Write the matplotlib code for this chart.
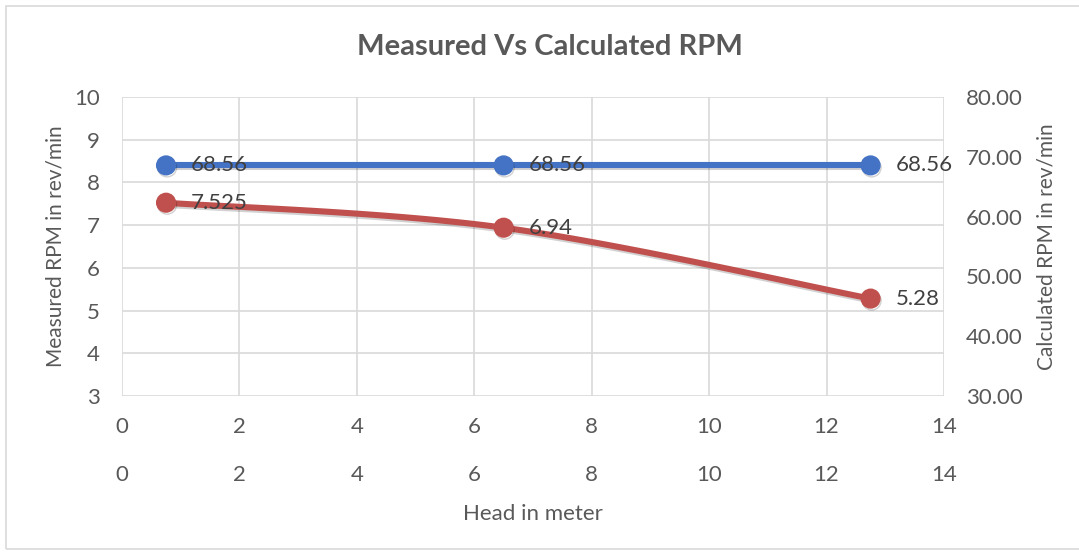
import numpy as np
import matplotlib
matplotlib.use('Agg')
import matplotlib.pyplot as plt
import matplotlib.patheffects as pe
from matplotlib.patches import Rectangle

# data
head = [0.75, 6.5, 12.75]
measured = [7.525, 6.94, 5.28]
calculated = [68.56, 68.56, 68.56]
measured_labels = ['7.525', '6.94', '5.28']
calculated_labels = ['68.56', '68.56', '68.56']

BLUE = '#4472C4'
RED = '#C0504D'
GRID = '#D9D9D9'
TXT = '#595959'

plt.rcParams['font.family'] = ['Lato', 'DejaVu Sans']

#smooth curve through the points (catmull-rom style, like a spreadsheet smoothed line)
def smooth(xs, ys, n=40):
    pts = np.column_stack([xs, ys]).astype(float)
    p = np.vstack([pts[0], pts, pts[-1]])
    out = []
    for i in range(1, len(p) - 2):
        p0, p1, p2, p3 = p[i-1], p[i], p[i+1], p[i+2]
        c1 = p1 + (p2 - p0) / 6.0
        c2 = p2 - (p3 - p1) / 6.0
        t = np.linspace(0, 1, n)[:, None]
        seg = (1-t)**3*p1 + 3*(1-t)**2*t*c1 + 3*(1-t)*t**2*c2 + t**3*p2
        out.append(seg)
    out = np.vstack(out)
    return out[:, 0], out[:, 1]

shadow = [pe.SimpleLineShadow(offset=(0.8, -1.5), shadow_color='black', alpha=0.18), pe.Normal()]

fig = plt.figure(figsize=(10.79, 5.53), dpi=100)
fig.patches.append(Rectangle((6/1079, 4/553), 1.0, 543/553, transform=fig.transFigure,
                             fill=False, edgecolor=GRID, lw=1.2))

ax = fig.add_axes([122/1079, 1-396/553, 822/1079, 299/553])
ax.set_xlim(0, 14)
ax.set_ylim(3, 10)
ax.set_xticks(range(0, 15, 2))
ax.set_yticks(range(3, 11))
ax.grid(True, color=GRID, lw=1.2)
ax.set_axisbelow(True)
for s in ax.spines.values():
    s.set_visible(False)
ax.tick_params(length=0, labelsize=16, colors=TXT, pad=15)
ax.tick_params(axis='y', pad=16)
ax.set_ylabel('Measured RPM in rev/min', fontsize=15, color=TXT, labelpad=6)

ax2 = ax.twinx()
ax2.set_ylim(30, 80)
ax2.set_yticks(range(30, 81, 10))
ax2.set_yticklabels(['%.2f' % v for v in range(30, 81, 10)])
for s in ax2.spines.values():
    s.set_visible(False)
ax2.tick_params(length=0, labelsize=16, colors=TXT, pad=16)
ax2.set_ylabel('Calculated RPM in rev/min', fontsize=15, color=TXT, labelpad=10)

# second horizontal axis below the first one
sec = ax.secondary_xaxis(-48/299)
sec.set_xticks(range(0, 15, 2))
sec.spines['bottom'].set_visible(False)
sec.tick_params(length=0, labelsize=16, colors=TXT, pad=15)
sec.set_xlabel('Head in meter', fontsize=16, color=TXT, labelpad=14)

# measured (primary axis), smoothed red line
sx, sy = smooth(head, measured)
ax.plot(sx, sy, color=RED, lw=4.4, solid_capstyle='round', zorder=3, path_effects=shadow)
ax.plot(head, measured, 'o', color=RED, ms=13.5, zorder=4, path_effects=shadow)
for x, y, t in zip(head, measured, measured_labels):
    ax.annotate(t, (x, y), xytext=(18, 0), textcoords='offset points',
                va='center', ha='left', fontsize=16, color='#404040', zorder=5)

# calculated (secondary axis), blue line
ax2.plot(head, calculated, color=BLUE, lw=4.4, zorder=3, path_effects=shadow)
ax2.plot(head, calculated, 'o', color=BLUE, ms=13.5, zorder=4, path_effects=shadow)
for x, y, t in zip(head, calculated, calculated_labels):
    ax2.annotate(t, (x, y), xytext=(18, 0), textcoords='offset points',
                 va='center', ha='left', fontsize=16, color='#404040', zorder=5)

fig.text(550/1079, 1-47/553, 'Measured Vs Calculated RPM', ha='center', va='center',
         fontsize=21, fontweight='bold', color=TXT)

fig.savefig('out.png', dpi=100)
